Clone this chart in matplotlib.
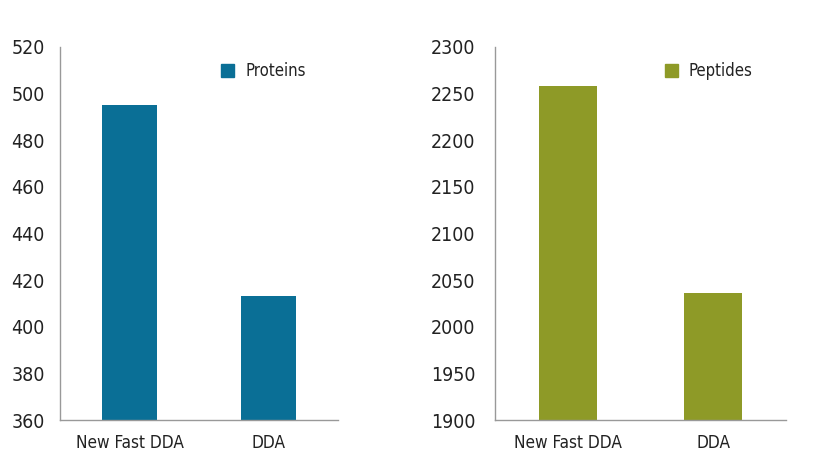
import matplotlib
matplotlib.use("Agg")
import matplotlib.pyplot as plt
from matplotlib.patches import Patch

categories = ["New Fast DDA", "DDA"]
proteins = [495, 413]
peptides = [2258, 2036]
protein_ticks = [360, 380, 400, 420, 440, 460, 480, 500, 520]
peptide_ticks = [1900, 1950, 2000, 2050, 2100, 2150, 2200, 2250, 2300]

plt.rcParams['font.family'] = ['DejaVu Sans']
plt.rcParams['font.stretch'] = 'condensed'

W, H = 823, 459
fig = plt.figure(figsize=(W/100, H/100), dpi=100)
fig.patch.set_facecolor('white')

def make_ax(x0, x1, vals, color, ticks, label, leg_x, ypad):
    ax = fig.add_axes([x0/W, 1-420/H, (x1-x0)/W, (420-47)/H])
    x = list(range(len(categories)))
    ax.bar(x, vals, width=0.4, color=color, label=label, zorder=2)
    ax.set_xlim(-0.5, 1.5)
    ax.set_ylim(ticks[0], ticks[-1])
    ax.set_yticks(ticks)
    ax.set_xticks(x)
    ax.set_xticklabels(categories, fontsize=12.3)
    ax.tick_params(axis='y', labelsize=14, length=0, pad=ypad, colors='#222222')
    ax.tick_params(axis='x', length=0, pad=10, colors='#222222')
    for s in ['top', 'right']:
        ax.spines[s].set_visible(False)
    for s in ['left', 'bottom']:
        ax.spines[s].set_color('#999999')
        ax.spines[s].set_linewidth(1.0)
    leg = ax.legend(handles=[Patch(color=color, label=label)], loc='upper left',
                    bbox_to_anchor=(leg_x, 1.0), frameon=False, fontsize=12,
                    handlelength=0.8, handleheight=0.8, handletextpad=0.65)
    for t in leg.get_texts():
        t.set_color('#222222')
    return ax

make_ax(60, 338, proteins, '#0a6f96', protein_ticks, 'Proteins', 0.525, 11)
make_ax(495, 786, peptides, '#8e9a27', peptide_ticks, 'Peptides', 0.532, 14)

fig.savefig('out.png', dpi=100, facecolor='white')
